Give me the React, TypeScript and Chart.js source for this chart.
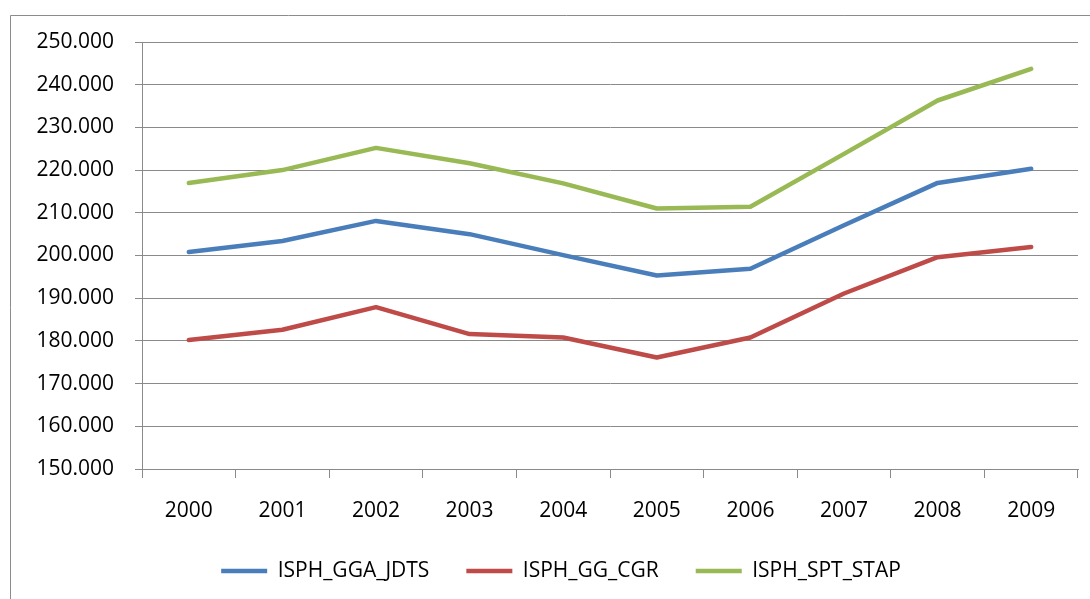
import React, { useEffect, useRef } from "react";
import { Chart, registerables } from "chart.js";

Chart.register(...registerables);

const years = ["2000", "2001", "2002", "2003", "2004", "2005", "2006", "2007", "2008", "2009"];
const gga = [200.8, 203.4, 208.1, 205.0, 200.1, 195.3, 196.9, 207.1, 217.0, 220.3];
const cgr = [180.2, 182.6, 187.9, 181.6, 180.8, 176.1, 180.8, 191.1, 199.6, 202.0];
const stap = [217.0, 220.0, 225.2, 221.6, 216.9, 211.0, 211.4, 223.8, 236.3, 243.7];
const yTickLabels = ["150.000", "160.000", "170.000", "180.000", "190.000", "200.000", "210.000", "220.000", "230.000", "240.000", "250.000"];
const seriesNames = ["ISPH_GGA_JDTS", "ISPH_GG_CGR", "ISPH_SPT_STAP"];

const FONT = "'Open Sans', sans-serif";
const GRID = "#8a8a8a";

const framePlugin = {
  id: "frame",
  beforeDraw(chart: any) {
    const ctx = chart.ctx;
    ctx.save();
    ctx.strokeStyle = "#8c8c8c";
    ctx.lineWidth = 1;
    ctx.beginPath();
    ctx.moveTo(10.5, chart.height);
    ctx.lineTo(10.5, 15.5);
    ctx.lineTo(chart.width, 15.5);
    ctx.stroke();
    ctx.restore();
  },
};

export default function App() {
  const ref = useRef<HTMLCanvasElement | null>(null);
  useEffect(() => {
    if (!ref.current) return;
    const mk = (label: string, data: number[], color: string) => ({
      label,
      data,
      borderColor: color,
      backgroundColor: color,
      borderWidth: 4.5,
      pointRadius: 0,
      tension: 0,
      borderCapStyle: "round",
      borderJoinStyle: "round",
      pointStyle: "line",
    });
    const chart = new Chart(ref.current, {
      type: "line",
      data: {
        labels: years,
        datasets: [
          mk(seriesNames[0], gga, "#4A7EBB"),
          mk(seriesNames[1], cgr, "#BE4B48"),
          mk(seriesNames[2], stap, "#98B954"),
        ] as any,
      },
      options: {
        animation: false,
        responsive: false,
        maintainAspectRatio: false,
        layout: { padding: { top: 42, bottom: 7.5, left: 0, right: 0 } },
        plugins: {
          tooltip: { enabled: false },
          legend: {
            position: "bottom",
            labels: {
              usePointStyle: true,
              pointStyleWidth: 46,
              padding: 37,
              color: "#000",
              font: { family: FONT, size: 21 },
            },
          },
        },
        scales: {
          x: {
            type: "category",
            offset: true,
            grid: {
              offset: true,
              drawOnChartArea: false,
              drawTicks: true,
              tickLength: 9,
              color: GRID,
            },
            border: { display: true, color: GRID },
            ticks: {
              color: "#000",
              padding: 20,
              maxRotation: 0,
              font: { family: FONT, size: 21 },
            },
            afterFit(s: any) {
              s.height = 54.5;
            },
          },
          y: {
            type: "linear",
            position: "left",
            min: 150,
            max: 250,
            grid: { color: GRID, tickLength: 7 },
            border: { display: true, color: GRID },
            ticks: {
              stepSize: 10,
              padding: 21,
              color: "#000",
              font: { family: FONT, size: 21 },
              callback: (_v: any, i: number) => yTickLabels[i],
            },
            afterFit(s: any) {
              s.width = 142;
            },
          },
          yRight: {
            type: "linear",
            position: "right",
            display: true,
            grid: { display: false },
            border: { display: false },
            ticks: { display: false },
            afterFit(s: any) {
              s.width = 44;
            },
          },
        },
      } as any,
      plugins: [framePlugin],
    });
    return () => chart.destroy();
  }, []);
  return (
    <div style={{ position: "fixed", left: 0, top: 0, width: 1090, height: 599, overflow: "hidden", background: "#fff" }}>
      <canvas ref={ref} width={1122} height={599} style={{ display: "block", width: 1122, height: 599 }} />
    </div>
  );
}
